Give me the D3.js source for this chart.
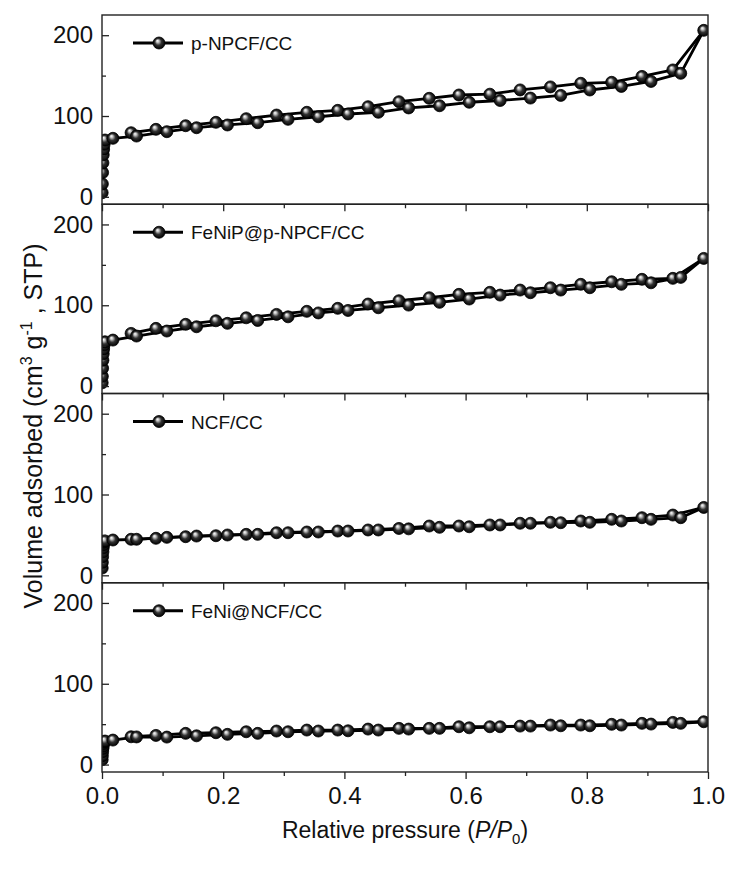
<!DOCTYPE html>
<html>
<head>
<meta charset="utf-8">
<script src="https://cdn.jsdelivr.net/npm/d3@7/dist/d3.min.js"></script>
<style>
  html, body { margin: 0; padding: 0; background: #fff; }
  svg { display: block; }
  text { font-family: "Liberation Sans", Arial, sans-serif; fill: #111; }
</style>
</head>
<body>
<svg id="chart" width="729" height="875"></svg>
<script>
// N2 sorption isotherms: relative pressure grids shared by all samples
const pressureLow = [0.0003, 0.0006, 0.001, 0.0015, 0.002, 0.0027, 0.0035, 0.005, 0.018];
const pressureAds = [0.057, 0.107, 0.156, 0.207, 0.257, 0.307, 0.357, 0.406, 0.456, 0.506,
                     0.557, 0.606, 0.657, 0.707, 0.757, 0.805, 0.857, 0.906, 0.955, 0.993];
const pressureDes = [0.942, 0.891, 0.841, 0.790, 0.740, 0.690, 0.640, 0.589, 0.540, 0.490,
                     0.439, 0.389, 0.338, 0.288, 0.238, 0.188, 0.138, 0.089, 0.048];

const sampleNames = ["p-NPCF/CC", "FeNiP@p-NPCF/CC", "NCF/CC", "FeNi@NCF/CC"];

// p-NPCF/CC
const npcfLow = [5, 16, 30, 42, 52, 59, 65, 70.3, 72.4];
const npcfAds = [75.2, 80.6, 85.5, 88.9, 91.7, 95.9, 99.1, 102.5, 104.6, 110.0,
                 112.7, 117.0, 119.2, 122.2, 125.5, 132.2, 136.6, 142.8, 152.8, 206.0];
const npcfDes = [157.0, 149.0, 141.7, 140.5, 136.0, 132.3, 127.0, 126.0, 121.9, 117.7,
                 111.5, 107.0, 104.6, 101.2, 96.7, 92.2, 88.0, 83.5, 79.3];

// FeNiP@p-NPCF/CC
const fenipLow = [4, 12, 22, 32, 40, 46, 51, 54.8, 56.9];
const fenipAds = [61.9, 68.1, 73.4, 77.6, 81.2, 85.7, 90.5, 93.6, 96.9, 100.2,
                  103.6, 107.7, 112.6, 115.5, 118.8, 121.7, 125.9, 127.8, 134.5, 158.0];
const fenipDes = [133.3, 132.1, 129.1, 125.9, 121.7, 118.8, 116.0, 113.5, 109.3, 105.6,
                  101.5, 96.2, 92.5, 88.7, 84.5, 80.8, 76.4, 71.4, 65.2];

// NCF/CC
const ncfLow = [9, 16, 23, 29, 34, 38, 41, 42.5, 43.7];
const ncfAds = [44.6, 47.0, 48.6, 49.9, 50.7, 52.7, 53.6, 54.8, 56.1, 57.5,
                59.4, 60.1, 62.3, 64.4, 65.1, 65.6, 67.2, 69.3, 71.3, 84.0];
const ncfDes = [74.6, 71.3, 69.3, 67.2, 65.6, 64.4, 62.3, 61.0, 61.0, 58.0,
                56.1, 54.8, 53.6, 52.7, 50.7, 49.0, 47.8, 45.8, 44.6];

// FeNi@NCF/CC
const feniLow = [6, 11, 16, 20, 23, 26, 28, 29.1, 30.3];
const feniAds = [34.2, 34.0, 35.6, 37.4, 38.6, 40.6, 41.5, 41.8, 42.7, 43.9,
                 44.8, 45.5, 46.8, 47.6, 48.0, 48.0, 48.9, 50.1, 51.0, 53.0];
const feniDes = [52.2, 51.0, 49.8, 48.9, 48.9, 47.6, 46.8, 46.8, 44.8, 44.8,
                 43.9, 42.7, 42.7, 41.5, 40.6, 39.4, 38.6, 36.1, 34.4];

const lowSets = [npcfLow, fenipLow, ncfLow, feniLow];
const adsSets = [npcfAds, fenipAds, ncfAds, feniAds];
const desSets = [npcfDes, fenipDes, ncfDes, feniDes];

const xTicksMajor = [0, 0.2, 0.4, 0.6, 0.8, 1.0];
const xTicksMinor = [0.1, 0.3, 0.5, 0.7, 0.9];
const yTicksMajor = [0, 100, 200];
const yTicksMinor = [50, 150];

// ---- layout ----
const plotLeft = 102, plotRight = 708, plotTop = 15, plotBottom = 772;
const panelH = (plotBottom - plotTop) / sampleNames.length;
const yDomain = [-9.2, 225];

const svg = d3.select("#chart");
const defs = svg.append("defs");

// shaded sphere marker
const grad = defs.append("radialGradient")
  .attr("id", "ball").attr("cx", "50%").attr("cy", "50%").attr("r", "50%")
  .attr("fx", "36%").attr("fy", "30%");
grad.append("stop").attr("offset", "0%").attr("stop-color", "#ffffff");
grad.append("stop").attr("offset", "22%").attr("stop-color", "#c4c4c4");
grad.append("stop").attr("offset", "55%").attr("stop-color", "#333333");
grad.append("stop").attr("offset", "100%").attr("stop-color", "#000000");

const x = d3.scaleLinear().domain([0, 1]).range([plotLeft, plotRight]);

sampleNames.forEach((name, i) => {
  const top = plotTop + i * panelH;
  const bottom = top + panelH;
  const y = d3.scaleLinear().domain(yDomain).range([bottom, top]);
  const g = svg.append("g");

  const clipId = "clip" + i;
  defs.append("clipPath").attr("id", clipId)
    .append("rect").attr("x", plotLeft).attr("y", top)
    .attr("width", plotRight - plotLeft).attr("height", panelH);

  // isotherm data: adsorption branch (low-pressure + main), desorption branch
  const ads = pressureLow.map((p, k) => [p, lowSets[i][k]])
    .concat(pressureAds.map((p, k) => [p, adsSets[i][k]]));
  const des = [ads[ads.length - 1]].concat(pressureDes.map((p, k) => [p, desSets[i][k]]));

  const line = d3.line().x(d => x(d[0])).y(d => y(d[1]));
  const dataG = g.append("g").attr("clip-path", `url(#${clipId})`);
  [ads, des].forEach(branch => {
    dataG.append("path").datum(branch)
      .attr("d", line).attr("fill", "none")
      .attr("stroke", "#000").attr("stroke-width", 2.8)
      .attr("stroke-linejoin", "round");
  });
  const pts = des.slice(1).concat(ads);
  dataG.selectAll("circle.pt").data(pts).enter().append("circle")
    .attr("class", "pt")
    .attr("cx", d => x(d[0])).attr("cy", d => y(d[1])).attr("r", 6)
    .attr("fill", "url(#ball)").attr("stroke", "#000").attr("stroke-width", 0.8);

  // y axis: ticks point into the panel
  const yAxis = g.append("g").attr("transform", `translate(${plotLeft},0)`)
    .call(d3.axisLeft(y).tickValues(yTicksMajor).tickSize(-7).tickPadding(9).tickFormat(d3.format("d")));
  const yMinor = g.append("g").attr("transform", `translate(${plotLeft},0)`)
    .call(d3.axisLeft(y).tickValues(yTicksMinor).tickSize(-4).tickFormat(""));
  [yAxis, yMinor].forEach(a => {
    a.select(".domain").remove();
    a.selectAll("line").attr("stroke", "#222").attr("stroke-width", 1.3);
  });
  yAxis.selectAll("text").attr("font-size", 24).attr("font-family", "Liberation Sans, Arial, sans-serif").attr("fill", "#111");

  // x axis ticks under each panel
  const xAxis = g.append("g").attr("transform", `translate(0,${bottom})`)
    .call(d3.axisBottom(x).tickValues(xTicksMajor).tickSize(7).tickPadding(8)
      .tickFormat(i === sampleNames.length - 1 ? d3.format(".1f") : ""));
  const xMinor = g.append("g").attr("transform", `translate(0,${bottom})`)
    .call(d3.axisBottom(x).tickValues(xTicksMinor).tickSize(4).tickFormat(""));
  [xAxis, xMinor].forEach(a => {
    a.select(".domain").remove();
    a.selectAll("line").attr("stroke", "#222").attr("stroke-width", 1.3);
  });
  xAxis.selectAll("text").attr("font-size", 24).attr("font-family", "Liberation Sans, Arial, sans-serif").attr("fill", "#111");

  // panel frame
  g.append("rect").attr("x", plotLeft).attr("y", top)
    .attr("width", plotRight - plotLeft).attr("height", panelH)
    .attr("fill", "none").attr("stroke", "#222").attr("stroke-width", 1.4);

  // legend
  const ly = top + 28;
  g.append("line").attr("x1", 133).attr("x2", 183).attr("y1", ly).attr("y2", ly)
    .attr("stroke", "#000").attr("stroke-width", 2.8);
  g.append("circle").attr("cx", 159).attr("cy", ly).attr("r", 6)
    .attr("fill", "url(#ball)").attr("stroke", "#000").attr("stroke-width", 0.8);
  g.append("text").attr("x", 191).attr("y", ly + 7).attr("font-size", 19).text(name);
});

// axis titles
const xt = svg.append("text").attr("x", 405).attr("y", 838)
  .attr("text-anchor", "middle").attr("font-size", 23);
xt.append("tspan").text("Relative pressure (");
xt.append("tspan").attr("font-style", "italic").text("P/P");
xt.append("tspan").attr("font-size", 15).attr("dy", 6).text("0");
xt.append("tspan").attr("dy", -6).text(")");

const yt = svg.append("text")
  .attr("transform", "translate(42,426) rotate(-90)")
  .attr("text-anchor", "middle").attr("font-size", 25);
yt.append("tspan").text("Volume adsorbed (cm");
yt.append("tspan").attr("font-size", 16).attr("dy", -10).text("3");
yt.append("tspan").attr("dy", 10).text(" g");
yt.append("tspan").attr("font-size", 16).attr("dy", -10).text("-1");
yt.append("tspan").attr("dy", 10).text(" , STP)");
</script>
</body>
</html>
